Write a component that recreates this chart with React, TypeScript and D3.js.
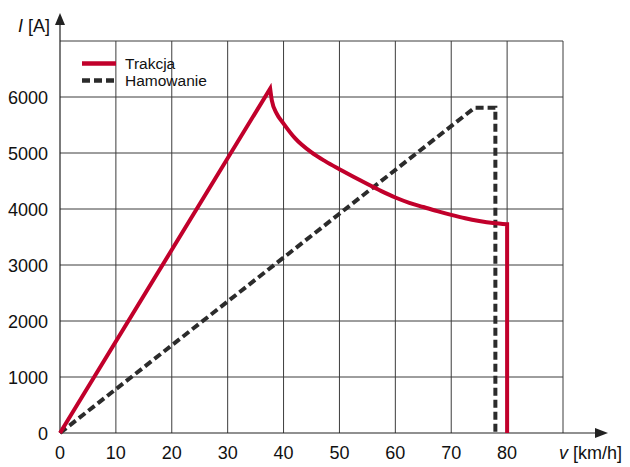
import * as d3 from "d3";

// traction current (red) and braking current (dashed)
const tractionV = [0, 37.6, 37.9, 38.8, 40, 42, 45, 47.5, 50, 52.5, 55, 57.5, 60, 62.5, 65, 67.5, 70, 72.5, 75, 77.5, 80, 80];
const tractionI = [0, 6150, 5940, 5700, 5525, 5270, 5010, 4850, 4710, 4575, 4445, 4320, 4205, 4110, 4035, 3962, 3895, 3835, 3787, 3750, 3728, 0];
const brakingV = [0, 74.2, 77.9, 77.9];
const brakingI = [0, 5810, 5810, 0];

const xTicks = [0, 10, 20, 30, 40, 50, 60, 70, 80];
const yTicks = [0, 1000, 2000, 3000, 4000, 5000, 6000];
const xGrid = [10, 20, 30, 40, 50, 60, 70, 80, 90];
const yGrid = [1000, 2000, 3000, 4000, 5000, 6000, 7000];

const legendItems = [
  { label: "Trakcja", color: "#c1002b", dash: "none" },
  { label: "Hamowanie", color: "#2b2b2b", dash: "8,4" },
];

const font = "'Liberation Sans', Arial, Helvetica, sans-serif";

export default function App() {
  const width = 630;
  const height = 467;

  const x = d3.scaleLinear().domain([0, 90]).range([60, 563]);
  const y = d3.scaleLinear().domain([0, 7000]).range([433, 41]);

  const linear = d3
    .line<[number, number]>()
    .x((d) => x(d[0]))
    .y((d) => y(d[1]));
  const smooth = d3
    .line<[number, number]>()
    .x((d) => x(d[0]))
    .y((d) => y(d[1]))
    .curve(d3.curveMonotoneX);

  const tractionPts: [number, number][] = tractionV.map((v, i) => [v, tractionI[i]]);
  const peak = tractionI.indexOf(d3.max(tractionI) as number);
  const last = tractionPts.length - 1;
  // straight rise, smooth falling part, vertical cut-off
  const rise = linear(tractionPts.slice(0, peak + 1)) ?? "";
  const fall = (smooth(tractionPts.slice(peak, last)) ?? "").replace(/^M/, "L");
  const traction = `${rise}${fall}L${x(tractionPts[last][0])},${y(tractionPts[last][1])}`;

  const braking = linear(brakingV.map((v, i) => [v, brakingI[i]])) ?? "";

  const gridColor = "#3c3c3c";
  const axisColor = "#222";

  return (
    <svg
      width={width}
      height={height}
      viewBox={`0 0 ${width} ${height}`}
      style={{ position: "absolute", left: 0, top: 0, background: "#fff" }}
      fontFamily={font}
    >
      {/* grid */}
      {xGrid.map((t) => (
        <line key={`gx${t}`} x1={x(t)} x2={x(t)} y1={y(0)} y2={y(7000)} stroke={gridColor} strokeWidth={1} />
      ))}
      {yGrid.map((t) => (
        <line key={`gy${t}`} x1={x(0)} x2={x(90)} y1={y(t)} y2={y(t)} stroke={gridColor} strokeWidth={1} />
      ))}

      {/* axes with arrows */}
      <line x1={x(0)} x2={x(0)} y1={y(0)} y2={24} stroke={axisColor} strokeWidth={1.2} />
      <path d={`M${x(0)},13 L${x(0) - 5},25 L${x(0) + 5},25 Z`} fill={axisColor} />
      <line x1={x(0)} x2={596} y1={y(0)} y2={y(0)} stroke={axisColor} strokeWidth={1.2} />
      <path d={`M608,${y(0)} L595,${y(0) - 5} L595,${y(0) + 5} Z`} fill={axisColor} />

      {/* tick labels */}
      {yTicks.map((t) => (
        <text key={`ty${t}`} x={48} y={y(t) + 6.5} textAnchor="end" fontSize={18} fill="#111">
          {t}
        </text>
      ))}
      {xTicks.map((t) => (
        <text key={`tx${t}`} x={x(t)} y={459} textAnchor="middle" fontSize={18} fill="#111">
          {t}
        </text>
      ))}

      {/* axis titles */}
      <text x={50} y={31.5} textAnchor="end" fontSize={18} fill="#111">
        <tspan fontStyle="italic">I</tspan> [A]
      </text>
      <text x={622} y={459} textAnchor="end" fontSize={18} fill="#111">
        <tspan fontStyle="italic">v</tspan> [km/h]
      </text>

      {/* series */}
      <path d={braking} fill="none" stroke={legendItems[1].color} strokeWidth={4} strokeDasharray={legendItems[1].dash} strokeLinejoin="miter" />
      <path d={traction} fill="none" stroke={legendItems[0].color} strokeWidth={4} strokeLinejoin="miter" />

      {/* legend */}
      {legendItems.map((item, i) => (
        <g key={item.label} transform={`translate(0, ${63.5 + i * 17})`}>
          <line x1={82} x2={116} y1={0} y2={0} stroke={item.color} strokeWidth={4.5} strokeDasharray={item.dash} />
          <text x={125} y={5.5} fontSize={15.5} fill="#111">
            {item.label}
          </text>
        </g>
      ))}
    </svg>
  );
}
